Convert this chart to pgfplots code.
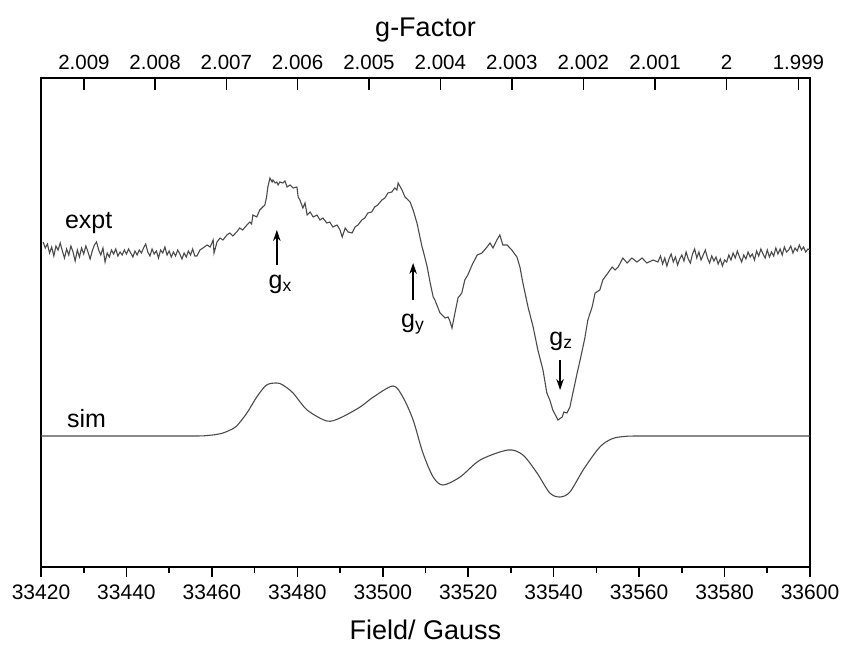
\documentclass[border=0pt]{standalone}
\usepackage{fontspec}
\setmainfont{Liberation Sans}
\usepackage{pgfplots}
\pgfplotsset{compat=1.18}
\usetikzlibrary{arrows.meta}
\definecolor{trace}{HTML}{4A4A4A}

\pgfplotstableread{
B I
33420.5 325
33421.0 319
33421.5 323
33422.0 314
33422.5 320
33423.0 311
33423.5 321
33424.0 317
33424.5 324
33425.0 316
33425.5 309
33426.0 318
33426.5 312
33427.0 321
33427.5 315
33428.0 306
33428.5 317
33429.0 310
33429.5 319
33430.0 313
33430.5 321
33431.0 315
33431.5 308
33432.0 316
33432.5 322
33433.0 325
33433.5 317
33434.0 312
33434.5 319
33435.0 305
33435.5 314
33436.0 310
33436.5 317
33437.0 313
33437.5 318
33438.0 311
33438.5 315
33439.0 312
33439.5 317
33440.0 313
33440.5 318
33441.0 314
33441.5 310
33442.0 316
33442.5 312
33443.0 317
33443.5 314
33444.0 319
33444.5 323
33445.0 315
33445.5 311
33446.0 318
33446.5 313
33447.0 316
33447.5 309
33448.0 317
33448.5 314
33449.0 320
33449.5 312
33450.0 316
33450.5 310
33451.0 315
33451.5 311
33452.0 317
33452.5 313
33453.0 308
33453.5 314
33454.0 310
33454.5 316
33455.0 312
33455.5 318
33456.0 311
33456.5 311
33457.2 317
33457.9 319
33458.9 322
33459.6 320
33460.3 327
33460.5 314
33461.2 325
33461.9 329
33462.6 327
33463.5 332
33464.2 334
33464.9 331
33465.8 335
33466.5 339
33467.2 337
33468.2 342
33468.9 345
33469.3 343
33469.6 352
33470.5 350
33471.2 357
33471.9 360
33472.4 362
33472.8 370
33473.1 380
33473.6 389
33474.1 385
33474.3 387
33474.8 384
33475.2 385
33475.5 382
33475.9 385
33476.6 384
33477.1 386
33477.6 380
33478.3 382
33479.0 379
33479.9 380
33480.2 370
33480.6 367
33481.3 359
33481.8 364
33482.3 352
33483.0 355
33483.7 350
33484.6 352
33485.3 347
33486.0 349
33486.9 344
33487.6 345
33488.3 340
33489.3 342
33490.0 337
33490.5 330
33491.2 339
33491.9 335
33492.8 334
33493.5 340
33494.2 342
33495.1 347
33495.8 349
33496.5 354
33497.4 355
33498.1 360
33498.8 362
33499.8 367
33500.5 369
33501.2 374
33502.1 375
33502.8 379
33503.3 377
33503.6 384
33504.5 377
33505.2 370
33506.4 365
33507.1 357
33508.0 344
33508.7 330
33509.2 320
33509.4 317
33510.4 300
33511.1 284
33511.8 270
33512.2 267
33513.4 254
33514.6 249
33515.3 250
33515.7 246
33516.2 239
33516.9 254
33517.6 269
33518.5 274
33519.2 287
33519.9 292
33520.9 302
33522.1 312
33523.2 314
33524.4 320
33525.1 324
33525.8 319
33526.7 327
33527.4 332
33528.1 322
33529.1 322
33530.2 317
33531.4 310
33532.1 300
33532.8 284
33534.0 260
33535.2 240
33536.3 217
33537.5 197
33538.4 174
33539.1 167
33539.8 157
33541.0 147
33542.0 150
33542.4 155
33543.1 154
33543.8 160
33544.5 174
33545.5 194
33546.2 207
33547.3 229
33548.0 247
33549.0 260
33549.7 274
33550.8 277
33551.5 287
33552.7 294
33553.7 300
33554.4 297
33555.1 300
33556.2 309
33557.2 304
33558.3 309
33559.5 305
33560.7 309
33561.8 304
33563.3 307
33564.4 305
33565.0 311
33565.5 303
33566.0 309
33566.5 301
33567.0 308
33567.5 313
33568.0 305
33568.5 310
33569.0 302
33569.5 308
33570.0 312
33570.5 306
33571.0 315
33571.5 308
33572.0 304
33572.5 313
33573.0 318
33573.5 309
33574.0 315
33574.5 307
33575.0 312
33575.5 317
33576.0 309
33576.5 304
33577.0 311
33577.5 306
33578.0 310
33578.5 303
33579.0 308
33579.5 301
33580.0 307
33580.5 305
33581.0 312
33581.5 307
33582.0 314
33582.5 309
33583.0 316
33583.5 310
33584.0 305
33584.5 312
33585.0 308
33585.5 315
33586.0 310
33586.5 313
33587.0 307
33587.5 316
33588.0 311
33588.5 318
33589.0 313
33589.5 309
33590.0 317
33590.5 310
33591.0 315
33591.5 311
33592.0 319
33592.5 313
33593.0 318
33593.5 312
33594.0 320
33594.5 315
33595.0 317
33595.5 321
33596.0 314
33596.5 319
33597.0 316
33597.5 322
33598.0 317
33598.5 320
33599.0 315
33599.5 318
33600.0 317
}\expt

\pgfplotstableread{
B I
33420.0 131
33440.0 131
33456.0 131
33458.9 131.5
33461.0 132.5
33462.6 134
33464.3 137
33465.8 141
33468.2 154
33470.5 170
33472.8 182
33475.2 184
33476.6 182
33479.0 174
33482.3 157
33486.9 146
33490.0 149
33494.7 160
33497.8 170
33502.4 181
33504.7 170
33507.1 147
33509.4 114
33511.8 90
33514.1 82
33518.1 90
33522.8 107
33529.3 117
33532.8 112
33536.1 94
33539.1 74
33541.5 70
33543.8 75
33546.9 97
33550.2 117
33552.2 125
33554.2 129
33556.5 130.5
33560.0 131
33580.0 131
33600.0 131
}\sim

\begin{document}
\begin{tikzpicture}
\path[use as bounding box] (-41pt,-79pt) rectangle (803pt,567pt);
% bottom field axis with the spectra
\begin{axis}[
  scale only axis, width=769pt, height=489pt,
  xmin=33420, xmax=33600, ymin=0, ymax=489,
  scaled x ticks=false,
  axis line style={line width=1.8pt},
  xtick={33420,33440,33460,33480,33500,33520,33540,33560,33580,33600},
  xticklabels={33420,33440,33460,33480,33500,33520,33540,33560,33580,33600},
  minor x tick num=1,
  xtick pos=left, tick align=outside,
  major tick length=10pt, minor tick length=6pt,
  every tick/.style={black, line width=1.6pt},
  ytick=\empty,
  xticklabel style={font=\fontsize{21}{25}\selectfont, yshift=-4pt},
  xlabel={Field/ Gauss},
  xlabel style={font=\fontsize{27}{32}\selectfont, yshift=-14pt},
  clip=false,
]
\addplot[trace, line width=1.1pt] table[x=B, y=I] {\expt};
\addplot[trace, line width=1.1pt, smooth, tension=0.5] table[x=B, y=I] {\sim};

\node[anchor=base west, font=\fontsize{25}{29}\selectfont] at (axis cs:33424.8,338) {expt};
\node[anchor=base west, font=\fontsize{25}{29}\selectfont] at (axis cs:33425.3,140) {sim};

\draw[line width=1.4pt, -{Stealth[length=11pt,width=7.5pt]}] (axis cs:33475.2,302) -- (axis cs:33475.2,337);
\node[font=\fontsize{25}{29}\selectfont] at (axis cs:33476.0,283) {g\textsubscript{x}};
\draw[line width=1.4pt, -{Stealth[length=11pt,width=7.5pt]}] (axis cs:33507.1,267) -- (axis cs:33507.1,304);
\node[font=\fontsize{25}{29}\selectfont] at (axis cs:33507.0,243) {g\textsubscript{y}};
\draw[line width=1.4pt, -{Stealth[length=11pt,width=7.5pt]}] (axis cs:33541.5,207) -- (axis cs:33541.5,177);
\node[font=\fontsize{25}{29}\selectfont] at (axis cs:33541.7,226) {g\textsubscript{z}};
\end{axis}
% top g-factor axis
\begin{axis}[
  scale only axis, width=769pt, height=489pt,
  xmin=33420, xmax=33600, ymin=0, ymax=489,
  scaled x ticks=false,
  axis x line*=top, axis y line=none,
  axis line style={line width=1.8pt},
  xtick={33430.06,33446.71,33463.38,33480.06,33496.76,33513.47,33530.20,33546.95,33563.72,33580.50,33597.30},
  xticklabels={2.009,2.008,2.007,2.006,2.005,2.004,2.003,2.002,2.001,2,1.999},
  tick align=inside, major tick length=12pt,
  every tick/.style={black, line width=1.6pt},
  xticklabel style={font=\fontsize{20.5}{24}\selectfont, yshift=5pt},
  xlabel={g-Factor},
  xlabel style={font=\fontsize{27}{32}\selectfont, yshift=6pt},
]
\end{axis}
\end{tikzpicture}
\end{document}
